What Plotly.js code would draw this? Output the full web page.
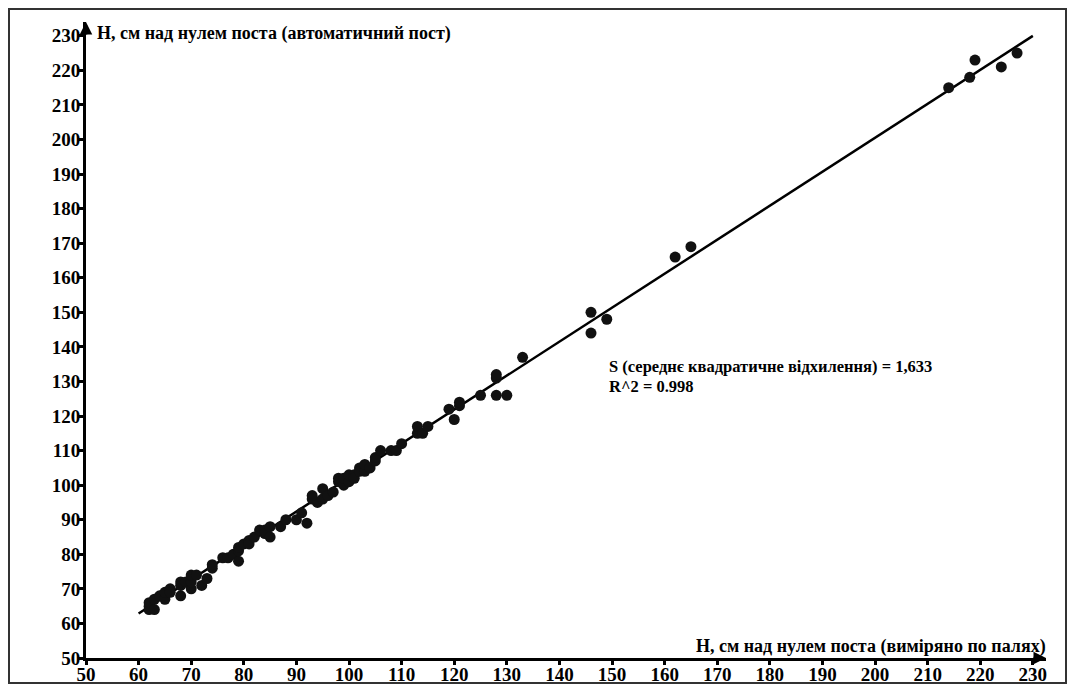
<!DOCTYPE html>
<html>
<head>
<meta charset="utf-8">
<script src="https://cdn.plot.ly/plotly-3.0.1.min.js"></script>
<style>
html,body{margin:0;padding:0;background:#fff;}
#chart{width:1075px;height:690px;}
</style>
</head>
<body>
<div id="chart"></div>
<script>
// Measured (piles) vs automatic post levels, cm
const measuredX = [62,62,62,63,63,64,65,65,66,66,68,68,68,69,70,70,70,71,72,73,74,74,76,77,78,79,79,79,80,81,81,82,83,84,84,85,85,87,88,90,91,92,93,94,93,95,95,96,97,98,98,99,99,100,100,101,101,102,102,103,103,104,105,105,106,108,109,110,113,113,114,115,119,120,121,121,125,128,128,128,130,133,146,146,149,162,165,214,218,219,224,227];
const automaticY = [64,65,66,64,67,68,67,69,70,69,68,71,72,72,70,72,74,74,71,73,76,77,79,79,80,78,81,82,83,84,83,85,87,87,86,85,88,88,90,90,92,89,96,95,97,99,96,97,98,101,102,100,102,101,103,103,102,105,104,104,106,105,107,108,110,110,110,112,115,117,115,117,122,119,123,124,126,126,131,132,126,137,144,150,148,166,169,215,218,223,221,225];
// Linear fit
const fitRange = [60, 230];
const fitSlope = 0.983;
const fitIntercept = 3.9;
const tickVals = [50,60,70,80,90,100,110,120,130,140,150,160,170,180,190,200,210,220,230];
const xTitle = "H, см над нулем поста (виміряно по палях)";
const yTitle = "H, см над нулем поста (автоматичний пост)";
const statLine1 = "S (середнє квадратичне відхилення) = 1,633";
const statLine2 = "R^2 = 0.998";

const fitY = fitRange.map(x => fitIntercept + fitSlope * x);
const FONT = "Liberation Serif, Times New Roman, serif";

const traces = [
  {x: fitRange, y: fitY, mode: 'lines', type: 'scatter',
   line: {color: '#000', width: 2.5}, hoverinfo: 'skip', showlegend: false},
  {x: measuredX, y: automaticY, mode: 'markers', type: 'scatter',
   marker: {color: '#111', size: 11, line: {width: 0}}, showlegend: false}
];

const axisCommon = {
  showgrid: false, zeroline: false, showline: true, linecolor: '#000', linewidth: 3,
  ticks: 'outside', ticklen: 4, tickwidth: 3, tickcolor: '#000',
  tickvals: tickVals, ticktext: tickVals.map(String),
  tickfont: {family: FONT, size: 19, color: '#000', weight: 'bold'},
  fixedrange: true
};

const layout = {
  width: 1075, height: 690,
  margin: {l: 86, r: 29, t: 22, b: 32, pad: 0},
  paper_bgcolor: '#fff', plot_bgcolor: '#fff',
  showlegend: false,
  xaxis: Object.assign({}, axisCommon, {range: [50, 232.5], ticklabelstandoff: -7}),
  yaxis: Object.assign({}, axisCommon, {range: [50, 234], ticklabelstandoff: -5}),
  font: {family: FONT, color: '#000'},
  shapes: [
    {type: 'rect', xref: 'paper', yref: 'paper',
     x0: (9-86)/960, x1: (1066-86)/960, y0: (658-683)/636, y1: (658-9)/636,
     line: {color: '#333', width: 2}, fillcolor: 'rgba(0,0,0,0)'}
  ],
  annotations: [
    {xref: 'paper', yref: 'paper', x: (95-86)/960, y: (658-33)/636, xanchor: 'left', yanchor: 'middle',
     text: yTitle, showarrow: false, font: {family: FONT, size: 18, color: '#000', weight: 'bold'}},
    {xref: 'paper', yref: 'paper', x: (1048-86)/960, y: (658-646)/636, xanchor: 'right', yanchor: 'middle',
     text: xTitle, showarrow: false, font: {family: FONT, size: 18, color: '#000', weight: 'bold'}},
    {xref: 'paper', yref: 'paper', x: (607-86)/960, y: (658-366)/636, xanchor: 'left', yanchor: 'middle',
     text: statLine1, showarrow: false, font: {family: FONT, size: 16.5, color: '#000', weight: 'bold'}},
    {xref: 'paper', yref: 'paper', x: (607-86)/960, y: (658-386)/636, xanchor: 'left', yanchor: 'middle',
     text: statLine2, showarrow: false, font: {family: FONT, size: 16.5, color: '#000', weight: 'bold'}},
    {xref: 'paper', yref: 'paper', x: 0, y: 1, ax: 0, ay: 14,
     text: '', showarrow: true, arrowhead: 2, arrowsize: 1, arrowwidth: 2.5, arrowcolor: '#000', standoff: 0},
    {xref: 'paper', yref: 'paper', x: 1, y: 0, ax: -14, ay: 0,
     text: '', showarrow: true, arrowhead: 2, arrowsize: 1, arrowwidth: 2.5, arrowcolor: '#000', standoff: 0}
  ]
};

Plotly.newPlot('chart', traces, layout, {displayModeBar: false, staticPlot: true});
</script>
</body>
</html>
